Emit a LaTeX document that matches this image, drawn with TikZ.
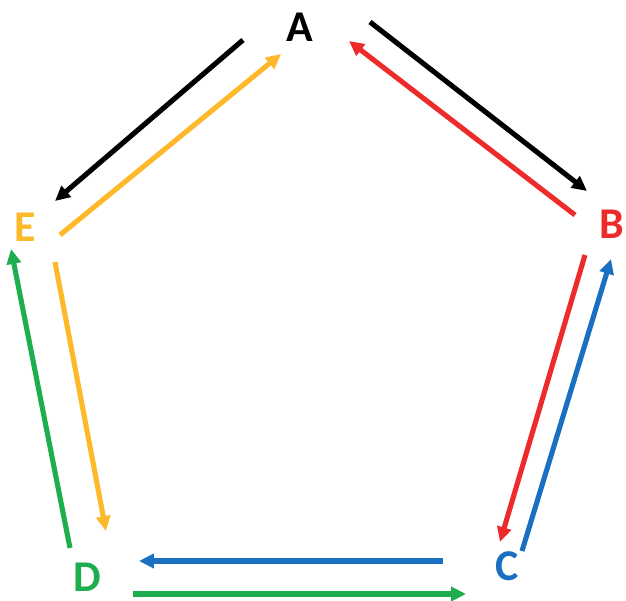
\documentclass[tikz,border=0pt]{standalone}
\usepackage{fontspec}
\setmainfont{Carlito}
\usepackage{xcolor}
\usepackage{tikz}
\usetikzlibrary{arrows.meta}

\definecolor{cred}{HTML}{EE2B2B}
\definecolor{cyellow}{HTML}{FDB92A}
\definecolor{cblue}{HTML}{1A6FC0}
\definecolor{cgreen}{HTML}{1FAE4F}

\tikzset{
  vertex/.style={font=\fontsize{25}{30}\selectfont\bfseries, inner sep=0pt, anchor=base},
  edge/.style={line width=2.9pt, -{Triangle[length=8.5pt,width=8pt]}}
}

\begin{document}
\begin{tikzpicture}[x=0.02cm, y=-0.02cm]
   \useasboundingbox (0,0) rectangle (626,601);

   % vertices (placed at their baselines)
   \node[vertex]               (A) at (300,42)  {A};
   \node[vertex, text=cred]    (B) at (612,239) {B};
   \node[vertex, text=cblue]   (C) at (507,580) {C};
   \node[vertex, text=cgreen]  (D) at (87,591)  {D};
   \node[vertex, text=cyellow] (E) at (25,242)  {E};

   % arrow ends
   \foreach \name/\x/\y in {
      ae1/243/40,  ae2/55/201,
      ea1/60/235,  ea2/281/54,
      ab1/370/22,  ab2/587/191,
      ba1/575/215, ba2/349/41,
      bc1/585/255, bc2/500/542,
      cb1/522/551, cb2/611/259,
      cd1/443/561, cd2/139/561,
      dc1/133/594, dc2/466/594,
      de1/70/548,  de2/11/249,
      ed1/55/262,  ed2/106/531
   }{
      \coordinate (\name) at (\x,\y);
   }

   \draw[edge, black]   (ae1) -- (ae2);
   \draw[edge, cyellow] (ea1) -- (ea2);
   \draw[edge, black]   (ab1) -- (ab2);
   \draw[edge, cred]    (ba1) -- (ba2);
   \draw[edge, cred]    (bc1) -- (bc2);
   \draw[edge, cblue]   (cb1) -- (cb2);
   \draw[edge, cblue]   (cd1) -- (cd2);
   \draw[edge, cgreen]  (dc1) -- (dc2);
   \draw[edge, cgreen]  (de1) -- (de2);
   \draw[edge, cyellow] (ed1) -- (ed2);
\end{tikzpicture}
\end{document}
